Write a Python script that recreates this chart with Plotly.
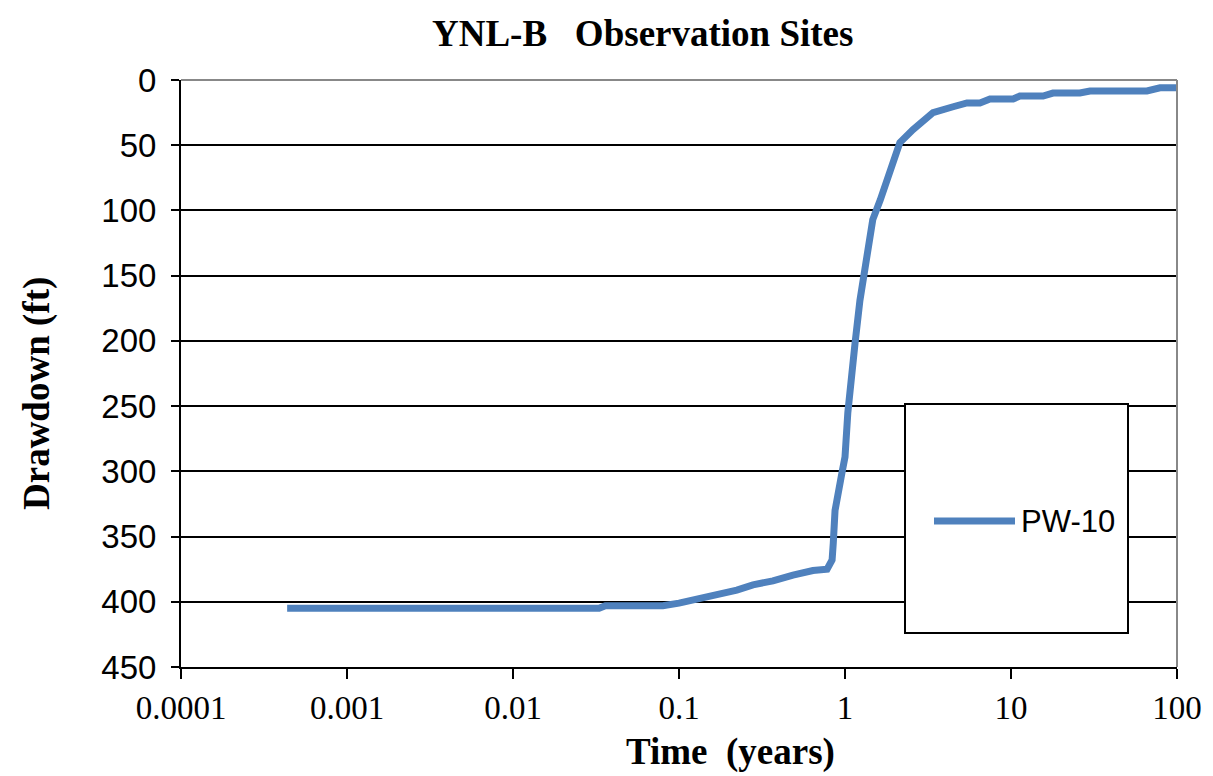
import plotly.graph_objects as go

# Data (time in years, drawdown in ft)
time_years = [0.000436, 0.033, 0.036, 0.08, 0.1, 0.16, 0.223, 0.279, 0.368, 0.486, 0.641,
              0.78, 0.836, 0.85, 0.871, 0.959, 1.0, 1.04, 1.10, 1.15, 1.23, 1.36, 1.47,
              1.63, 1.87, 2.14, 2.57, 2.95, 3.39, 4.48, 5.43, 6.5, 7.47, 10.3, 11.3,
              15.6, 17.9, 26.0, 29.9, 65.9, 79.0, 100.0]
drawdown_ft = [405, 405, 403, 403, 401, 395.6, 391, 387, 384, 379.5, 376,
               375, 368, 355, 330, 301, 289, 255, 230, 201.5, 169, 133, 107,
               92, 69, 48, 38, 30.7, 25, 20.5, 17.6, 17.6, 14.6, 14.6, 12.3,
               12.3, 10, 10, 8.4, 8.4, 6, 6]
series_name = "PW-10"
x_tickvals = [0.0001, 0.001, 0.01, 0.1, 1, 10, 100]
x_ticktext = ["0.0001", "0.001", "0.01", "0.1", "1", "10", "100"]
y_tickvals = [0, 50, 100, 150, 200, 250, 300, 350, 400, 450]

LINE_COLOR = "#4F81BD"

# page body has an 8px margin; plot area target: x 181..1177, y 80..667 (screen)
OFF = 8
PL, PR, PT, PB = 181, 1177, 80, 667
PW, PH = PR - PL, PB - PT


def px(x):
    return (x - PL) / PW


def py(y):
    return (PB - y) / PH


fig = go.Figure()
fig.add_trace(go.Scatter(x=time_years, y=drawdown_ft, mode="lines", name=series_name,
                         line=dict(color=LINE_COLOR, width=7), showlegend=False))
# legend entry (key line drawn as a longer Excel-style shape below)
fig.add_trace(go.Scatter(x=[None], y=[None], mode="lines", name=series_name,
                         line=dict(color="rgba(0,0,0,0)", width=7), showlegend=True,
                         hoverinfo="skip"))

fig.update_layout(
    width=1213 - OFF, height=776 - OFF,
    margin=dict(l=PL - OFF, r=1213 - PR, t=PT - OFF, b=776 - PB),
    paper_bgcolor="white", plot_bgcolor="white",
    showlegend=True,
    legend=dict(x=px(981), y=py(520), xanchor="left", yanchor="middle",
                bgcolor="rgba(0,0,0,0)", borderwidth=0,
                font=dict(family="Liberation Sans, Arial", size=31, color="black")),
    xaxis=dict(type="log", range=[-4, 2], tickvals=x_tickvals, ticktext=x_ticktext,
               showgrid=False, showline=True, linecolor="black", linewidth=2,
               ticks="outside", ticklen=10, tickwidth=2, tickcolor="black",
               tickfont=dict(family="Liberation Serif, Times New Roman", size=33, color="black"),
               zeroline=False),
    yaxis=dict(range=[450, 0], tickvals=y_tickvals, showgrid=True, gridcolor="black",
               gridwidth=2, showline=True, linecolor="black", linewidth=2,
               ticks="outside", ticklen=8, tickwidth=2, tickcolor="black",
               ticklabelstandoff=8,
               tickfont=dict(family="Liberation Sans, Arial", size=33, color="black"),
               zeroline=False),
)

# top and right gray frame lines
fig.add_shape(type="line", xref="paper", yref="paper", x0=0, x1=1, y0=1, y1=1,
              line=dict(color="#888888", width=2))
fig.add_shape(type="line", xref="paper", yref="paper", x0=1, x1=1, y0=0, y1=1,
              line=dict(color="#888888", width=2))
# legend box
fig.add_shape(type="rect", xref="paper", yref="paper",
              x0=px(905), x1=px(1128), y0=py(633), y1=py(404),
              fillcolor="white", line=dict(color="black", width=2), layer="above")
# Excel-style legend key line
fig.add_shape(type="line", xref="paper", yref="paper",
              x0=px(934), x1=px(1015), y0=py(521), y1=py(521),
              line=dict(color=LINE_COLOR, width=7), layer="above")

title_font = dict(family="Liberation Serif, Times New Roman", size=37, color="black")
fig.add_annotation(text="<b>YNL-B   Observation Sites</b>", xref="paper", yref="paper",
                   x=px(642), y=py(33), showarrow=False,
                   xanchor="center", yanchor="middle", font=title_font)
fig.add_annotation(text="<b>Drawdown (ft)</b>", xref="paper", yref="paper",
                   x=px(37), y=py(394), showarrow=False, textangle=-90,
                   xanchor="center", yanchor="middle", font=title_font)
fig.add_annotation(text="<b>Time  (years)</b>", xref="paper", yref="paper",
                   x=px(730), y=py(752), showarrow=False,
                   xanchor="center", yanchor="middle", font=title_font)

fig.write_html("out.html")
